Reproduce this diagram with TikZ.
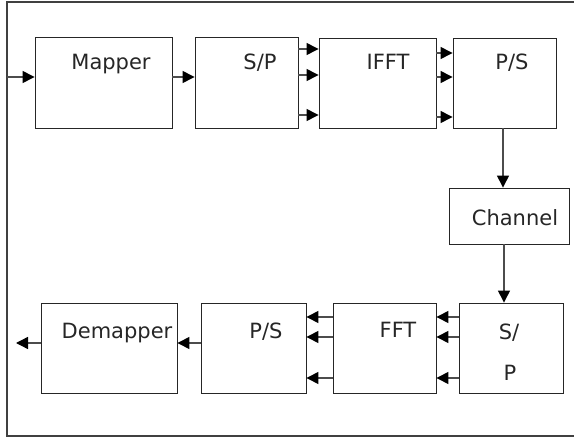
\documentclass[tikz,border=0pt]{standalone}
\usepackage{fontspec}
\setmainfont{DejaVu Sans}
\usetikzlibrary{arrows.meta}
\tikzset{
  blk/.style={draw=black!85, line width=0.9pt, rectangle, inner sep=0pt},
  lbl/.style={anchor=base, inner sep=0pt, font=\fontsize{21}{25}\selectfont, text=black!85},
  conn/.style={draw=black!70, line width=1.4pt, -{Triangle[length=12pt,width=12pt,color=black,fill=black]}},
  frame/.style={draw=black!75, line width=1.2pt}
}
\begin{document}
\begin{tikzpicture}[x=1pt,y=-1pt]
\useasboundingbox (0,0) rectangle (574,439);
% outer frame
\draw[frame] (580,2) -- (7,2) -- (7,436) -- (580,436);
% boxes
\node[blk, minimum width=137pt, minimum height=91pt] (mapper) at (103.5,82.5) {};
\node[blk, minimum width=103pt, minimum height=91pt] (sp1) at (246.5,82.5) {};
\node[blk, minimum width=117pt, minimum height=90pt] (ifft) at (377.5,83) {};
\node[blk, minimum width=103pt, minimum height=90pt] (ps1) at (504.5,83) {};
\node[blk, minimum width=120pt, minimum height=56pt] (chan) at (509,216) {};
\node[blk, minimum width=104pt, minimum height=90pt] (sp2) at (511,348) {};
\node[blk, minimum width=103pt, minimum height=90pt] (fft) at (384.5,348) {};
\node[blk, minimum width=105pt, minimum height=90pt] (ps2) at (253.5,348) {};
\node[blk, minimum width=136pt, minimum height=90pt] (demap) at (109,348) {};
% labels
\node[lbl] (tmapper) at (111,70) {Mapper};
\node[lbl] (tsp1) at (260,70) {S/P};
\node[lbl] (tifft) at (388,70) {IFFT};
\node[lbl] (tps1) at (512,70) {P/S};
\node[lbl] (tchan) at (515,225) {Channel};
\node[lbl] (tsp2a) at (509,339) {S/};
\node[lbl] (tsp2b) at (510,380) {P};
\node[lbl] (tfft) at (398,337) {FFT};
\node[lbl] (tps2) at (266,338) {P/S};
\node[lbl] (tdemap) at (117,338) {Demapper};
% free ends
\coordinate (in) at (7,77);
\coordinate (out) at (16,343);
% connectors
\draw[conn] (in) -- (mapper.west |- in);
\draw[conn] (mapper.east |- 0,77) -- (sp1.west |- 0,77);
\foreach \yy in {49,75,115} \draw[conn] (sp1.east |- 0,\yy) -- (ifft.west |- 0,\yy);
\foreach \yy in {53,77,117} \draw[conn] (ifft.east |- 0,\yy) -- (ps1.west |- 0,\yy);
\draw[conn] (ps1.south -| 503,0) -- (chan.north -| 503,0);
\draw[conn] (chan.south -| 504,0) -- (sp2.north -| 504,0);
\foreach \yy in {317,337,378} \draw[conn] (sp2.west |- 0,\yy) -- (fft.east |- 0,\yy);
\foreach \yy in {317,337,378} \draw[conn] (fft.west |- 0,\yy) -- (ps2.east |- 0,\yy);
\draw[conn] (ps2.west |- 0,343) -- (demap.east |- 0,343);
\draw[conn] (demap.west |- out) -- (out);
\end{tikzpicture}
\end{document}
